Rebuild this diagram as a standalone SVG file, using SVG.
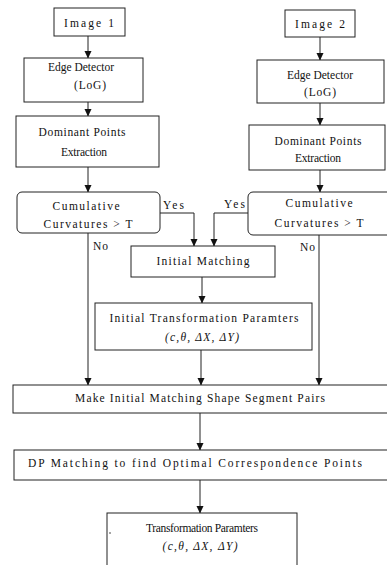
<svg xmlns="http://www.w3.org/2000/svg" width="387" height="565" viewBox="0 0 387 565">
<defs>
<marker id="ah" markerWidth="8" markerHeight="8" refX="7" refY="4" orient="auto" markerUnits="userSpaceOnUse">
<path d="M0,0.5 L7.5,4 L0,7.5 Z" fill="#111"/>
</marker>
<style>
.box{fill:#fff;stroke:#222;stroke-width:1}
.t{font-family:"Liberation Serif","Times New Roman",serif;font-size:11.5px;fill:#111;text-anchor:middle}
.i{font-style:italic}
.c{fill:none;stroke:#222;stroke-width:1;marker-end:url(#ah)}
.l{font-family:"Liberation Serif","Times New Roman",serif;font-size:11.5px;fill:#111}
</style>
</defs>
<rect width="387" height="565" fill="#fff"/>
<g id="connectors">
<path class="c" d="M88,36 V58"/>
<path class="c" d="M88,102 V116"/>
<path class="c" d="M88,167 V192"/>
<path class="c" d="M88,233 V385"/>
<path class="c" d="M160,213 H194 V246"/>
<path class="c" d="M320,37 V60"/>
<path class="c" d="M320,103 V125"/>
<path class="c" d="M320,170 V192"/>
<path class="c" d="M319,235 V385"/>
<path class="c" d="M248,213 H214 V246"/>
<path class="c" d="M202,277 V303"/>
<path class="c" d="M201,350 V385"/>
<path class="c" d="M200,413 V450"/>
<path class="c" d="M200,480 V513"/>
<text class="l" x="163" y="209" textLength="21">Yes</text>
<text class="l" x="224" y="208" textLength="21">Yes</text>
<text class="l" x="93" y="250" textLength="15">No</text>
<text class="l" x="300" y="251" textLength="15">No</text>
</g>
<g id="image1">
<rect class="box" x="54" y="8" width="71" height="28"/>
<text class="t" x="89" y="27" textLength="50">Image 1</text>
</g>
<g id="edge1">
<rect class="box" x="24" y="58" width="119" height="44"/>
<text class="t" x="81" y="71" textLength="66">Edge Detector</text>
<text class="t" x="90" y="89" textLength="32">(LoG)</text>
</g>
<g id="dom1">
<rect class="box" x="16" y="116" width="143" height="51"/>
<text class="t" x="82" y="136" textLength="87">Dominant Points</text>
<text class="t" x="84" y="156" textLength="46">Extraction</text>
</g>
<g id="cum1">
<rect class="box" x="17" y="192" width="143" height="41" rx="5"/>
<text class="t" x="86" y="210" textLength="67">Cumulative</text>
<text class="t" x="88" y="228" textLength="89">Curvatures &gt; T</text>
</g>
<g id="image2">
<rect class="box" x="285" y="10" width="70" height="27"/>
<text class="t" x="320" y="28" textLength="50">Image 2</text>
</g>
<g id="edge2">
<rect class="box" x="257" y="60" width="127" height="43"/>
<text class="t" x="320" y="79" textLength="66">Edge Detector</text>
<text class="t" x="320" y="96" textLength="32">(LoG)</text>
</g>
<g id="dom2">
<rect class="box" x="249" y="125" width="136" height="45"/>
<text class="t" x="318" y="145" textLength="87">Dominant Points</text>
<text class="t" x="318" y="162" textLength="46">Extraction</text>
</g>
<g id="cum2">
<rect class="box" x="248" y="192" width="145" height="43" rx="5"/>
<text class="t" x="319" y="207" textLength="67">Cumulative</text>
<text class="t" x="319" y="227" textLength="89">Curvatures &gt; T</text>
</g>
<g id="initmatch">
<rect class="box" x="131" y="246" width="144" height="31"/>
<text class="t" x="203" y="265" textLength="93">Initial Matching</text>
</g>
<g id="initparams">
<rect class="box" x="95" y="303" width="217" height="47"/>
<text class="t" x="204" y="322" textLength="189">Initial Transformation Paramters</text>
<text class="t i" x="202" y="341" textLength="74">(c,θ, ΔX, ΔY)</text>
</g>
<g id="makepairs">
<rect class="box" x="13" y="385" width="376" height="28"/>
<text class="t" x="200" y="402" textLength="250">Make Initial Matching Shape Segment Pairs</text>
</g>
<g id="dpmatch">
<rect class="box" x="14" y="450" width="375" height="30"/>
<text class="t" x="195" y="467" textLength="334">DP Matching to find Optimal Correspondence Points</text>
</g>
<g id="transparams">
<rect class="box" x="107" y="513" width="190" height="56"/>
<text class="t" x="202" y="532" textLength="112">Transformation Paramters</text>
<text class="t i" x="200" y="550" textLength="75">(c,θ, ΔX, ΔY)</text>
<circle cx="110" cy="533" r="0.8" fill="#333"/>
</g>
</svg>
